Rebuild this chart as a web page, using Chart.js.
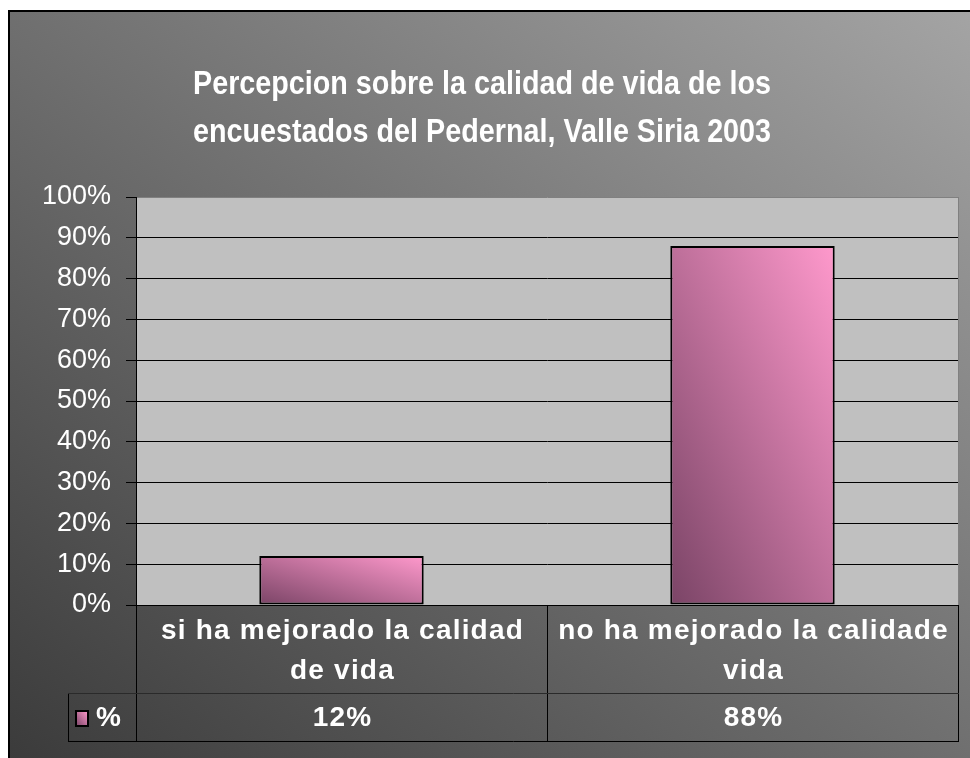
<!DOCTYPE html>
<html lang="es">
<head>
<meta charset="utf-8">
<title>Percepcion sobre la calidad de vida</title>
<script src="https://cdn.jsdelivr.net/npm/chart.js@4.4.1/dist/chart.umd.min.js"></script>
<style>
  html, body { margin: 0; padding: 0; background: #fff; }
  #chart { display: block; }
</style>
</head>
<body>
<canvas id="chart" width="970" height="758"></canvas>
<script>
// chart data
var titleLines = ['Percepcion sobre la calidad de vida de los', 'encuestados del Pedernal, Valle Siria 2003'];
var categories = [['si ha mejorado la calidad', 'de vida'], ['no ha mejorado la calidade', 'vida']];
var seriesName = '%';
var values = [12, 88];
var yMin = 0, yMax = 100, yStep = 10;

// excel-like diagonal fill: bottom-left dark -> top-right light
function diagGradient(c, x, y, w, h, c0, c1) {
    var k = 2 * w * h / (w * w + h * h);
    var g = c.createLinearGradient(x, y + h, x + k * h, y + h - k * w);
    g.addColorStop(0, c0);
    g.addColorStop(1, c1);
    return g;
}

function barFill(ctx) {
    var chart = ctx.chart;
    if (!chart.chartArea || ctx.type !== 'data') return '#d07aa8';
    var xs = chart.scales.x, ys = chart.scales.y;
    var cx = xs.getPixelForValue(ctx.dataIndex);
    var half = (xs.width / categories.length) * 0.4 / 2;
    var top = ys.getPixelForValue(ctx.raw), bottom = ys.getPixelForValue(0);
    return diagGradient(chart.ctx, cx - half, top, half * 2, bottom - top, '#7a4466', '#ff99cc');
}

var decor = {
    id: 'decor',
    beforeDraw: function (chart) {
        var c = chart.ctx, a = chart.chartArea, W = chart.width, H = chart.height;
        c.save();
        c.fillStyle = '#fff';
        c.fillRect(0, 0, W, H);
        c.fillStyle = diagGradient(c, 8, 10, W - 8, H - 10, '#3b3b3b', '#a4a4a4');
        c.fillRect(8, 10, W - 8, H - 10);
        c.strokeStyle = '#000';
        c.lineWidth = 2;
        c.beginPath();
        c.moveTo(9, H); c.lineTo(9, 11); c.lineTo(W, 11);
        c.stroke();
        // plot area
        c.fillStyle = '#c0c0c0';
        c.fillRect(a.left, a.top, a.right - a.left, a.bottom - a.top);
        c.restore();
    },
    afterDraw: function (chart) {
        var c = chart.ctx, a = chart.chartArea, xs = chart.scales.x;
        c.save();

        // plot border right
        c.strokeStyle = '#808080';
        c.lineWidth = 1;
        c.beginPath();
        c.moveTo(a.right + 0.5, a.top); c.lineTo(a.right + 0.5, a.bottom);
        c.stroke();

        // title
        c.fillStyle = '#fff';
        c.textAlign = 'center';
        c.textBaseline = 'middle';
        c.font = 'bold 34px "Liberation Sans Narrow", "Liberation Sans", Arial, sans-serif';
        var sx = 578 / c.measureText(titleLines[0]).width;
        titleLines.forEach(function (t, i) {
            c.save();
            c.translate(482, 85 + i * 48);
            c.scale(sx, 1);
            c.fillText(t, 0, 0);
            c.restore();
        });

        // data table
        var rowTop = a.bottom, rowMid = a.bottom + 88, rowBot = a.bottom + 136, keyLeft = 68;
        var edges = [a.left];
        for (var i = 0; i < categories.length - 1; i++) {
            edges.push((xs.getPixelForValue(i) + xs.getPixelForValue(i + 1)) / 2);
        }
        edges.push(a.right);

        c.strokeStyle = '#000';
        c.lineWidth = 1;
        c.beginPath();
        edges.forEach(function (x) {
            x = Math.round(x) + 0.5;
            c.moveTo(x, rowTop); c.lineTo(x, rowBot);
        });
        c.moveTo(keyLeft + 0.5, rowMid); c.lineTo(keyLeft + 0.5, rowBot);
        c.moveTo(keyLeft, rowBot + 0.5); c.lineTo(a.right + 1, rowBot + 0.5);
        c.stroke();
        c.strokeStyle = '#2a2a2a';
        c.beginPath();
        c.moveTo(keyLeft, rowMid + 0.5); c.lineTo(a.right + 1, rowMid + 0.5);
        c.stroke();

        c.fillStyle = '#fff';
        c.font = 'bold 28px "Liberation Sans", Arial, sans-serif';
        c.letterSpacing = '1.2px';
        categories.forEach(function (lines, i) {
            var cx = xs.getPixelForValue(i) + 1;
            lines.forEach(function (t, j) {
                c.fillText(t, cx, rowTop + 26 + j * 40);
            });
            c.fillText(values[i] + '%', cx, rowMid + 25);
        });

        // legend key
        c.fillStyle = diagGradient(c, 76, 711, 12, 15, '#7a4466', '#ff99cc');
        c.fillRect(76, 711, 12, 15);
        c.strokeStyle = '#000';
        c.lineWidth = 2;
        c.strokeRect(76, 711, 12, 15);
        c.fillStyle = '#fff';
        c.textAlign = 'left';
        c.fillText(seriesName, 96, rowMid + 25);
        c.restore();
    }
};

new Chart(document.getElementById('chart'), {
    type: 'bar',
    data: {
        labels: categories,
        datasets: [{
            label: seriesName,
            data: values,
            backgroundColor: barFill,
            borderColor: '#000',
            borderWidth: 2,
            borderSkipped: false,
            barPercentage: 0.4,
            categoryPercentage: 1.0
        }]
    },
    options: {
        responsive: false,
        animation: false,
        layout: { padding: { top: 197, right: 12, bottom: 153, left: 0 } },
        plugins: {
            legend: { display: false },
            title: { display: false },
            tooltip: { enabled: false }
        },
        scales: {
            x: { display: false },
            y: {
                min: yMin,
                max: yMax,
                afterFit: function (s) { s.width = 136; },
                border: { display: true, color: '#000', width: 1 },
                grid: {
                    color: function (ctx) { return ctx.tick && ctx.tick.value === yMax ? '#808080' : '#000'; },
                    tickColor: '#000',
                    tickLength: 10,
                    lineWidth: 1
                },
                ticks: {
                    stepSize: yStep,
                    color: '#fff',
                    padding: 15,
                    font: { family: '"Liberation Sans", Arial, sans-serif', size: 27 },
                    callback: function (v) { return v + '%'; }
                }
            }
        }
    },
    plugins: [decor]
});
</script>
</body>
</html>
